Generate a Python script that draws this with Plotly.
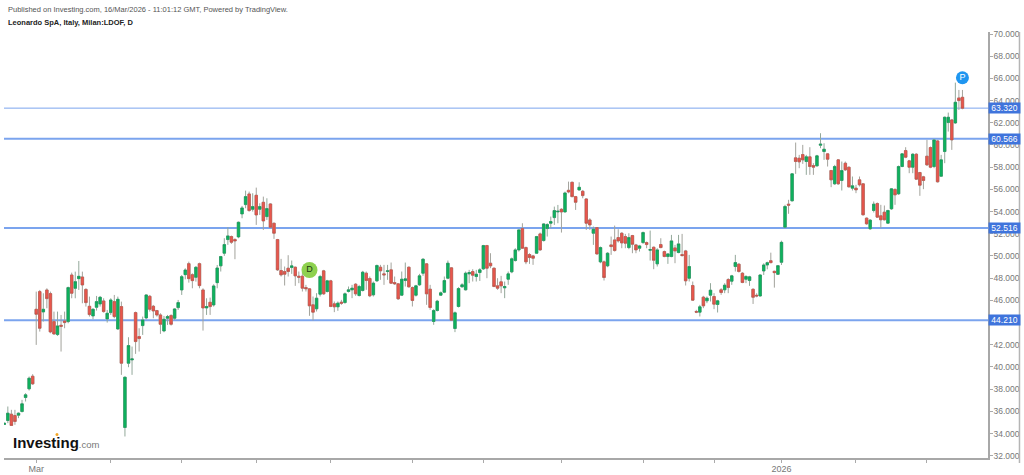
import pandas as pd
import plotly.graph_objects as go

# ---- data ----
first_day = "2025-02-18"
last_day = "2026-03-16"
holidays = ["2025-04-18", "2025-04-21", "2025-05-01", "2025-08-15", "2025-12-24",
            "2025-12-25", "2025-12-26", "2025-12-31", "2026-01-01"]

opens = [34.82,35.18,35.75,35.63,35.66,35.99,37.25,38.03,39.17,45.2,46.79,44.96,46.94,46.61,44.09,42.92,43.76,44.15,44.09,48.29,
47.09,47.96,48.11,46.99,45.47,44.6,45.38,45.68,45.95,44.33,44.9,45.89,43.43,45.44,34.55,40.34,40.64,44.9,42.74,43.73,
44.42,46.37,45.47,45.08,44.69,43.25,44.39,44.63,44.39,45.35,46.94,48.32,49.31,48.32,48.08,49.31,46.94,45.32,45.83,45.59,
47.6,49.11,50.25,51.48,51.75,51.48,51.72,53.79,54.63,55.59,54.21,55.47,54.21,54.84,53.55,54.69,52.95,51.48,48.69,48.6,
48.9,48.96,48.99,48.18,48.18,47.16,47.04,45.6,45.24,46.56,48.66,46.8,47.76,45.69,45.42,45.84,45.81,46.8,46.95,47.46,
46.44,46.89,48.45,47.97,46.5,47.76,48.99,48.39,48.6,48.75,47.61,47.49,46.47,47.79,48.99,47.16,46.47,47.4,48.45,49.29,
47.01,44.1,45.09,46.47,46.74,48.0,48.93,43.47,45.45,47.22,46.95,48.39,48.6,48.15,48.51,48.84,50.94,49.35,48.9,47.31,
47.67,47.13,47.91,48.57,49.59,50.55,52.47,50.76,50.13,50.01,50.25,51.99,51.39,52.47,52.95,53.46,53.97,54.21,53.97,55.92,
56.64,55.35,55.95,55.83,55.14,53.25,52.05,52.56,49.47,49.47,49.11,51.0,51.45,51.66,52.05,51.75,50.76,51.84,51.0,50.7,
51.21,51.21,50.52,50.79,49.29,51.03,50.4,49.95,49.95,50.73,50.31,50.13,50.46,48.0,47.34,45.0,44.94,46.29,45.96,46.47,
46.35,45.63,46.95,46.95,47.88,47.73,49.05,49.26,48.45,47.91,47.79,47.0,46.46,46.4,48.65,49.19,49.58,48.62,48.35,49.43,
52.6,54.67,54.97,58.84,58.81,59.14,58.51,58.93,58.15,58.12,59.98,59.41,59.2,57.7,56.5,58.66,56.8,58.36,58.0,56.11,
56.11,56.86,56.5,53.41,52.45,54.1,54.73,53.62,53.95,52.96,54.25,55.99,55.6,58.06,59.5,58.57,58.0,59.17,57.52,57.13,
58.99,59.77,58.06,60.37,57.19,59.41,62.02,62.26,61.99,64.24,64.3]

highs = [34.97,36.44,36.14,36.14,35.9,37.04,37.64,39.14,39.35,46.79,46.94,46.64,47.09,46.79,44.99,44.99,44.69,44.99,47.24,48.5,
48.59,49.55,48.59,47.09,46.34,45.29,46.4,46.4,46.19,45.14,46.19,46.49,46.34,45.89,39.14,42.68,41.84,44.99,43.49,44.54,
46.55,46.49,45.59,45.14,44.84,44.6,44.69,44.75,45.29,46.04,48.29,48.89,49.49,48.44,49.1,49.4,47.09,46.19,46.25,47.45,
49.19,50.01,51.6,52.59,51.84,51.6,53.1,54.51,55.89,55.8,55.65,56.16,54.75,55.35,55.2,54.75,53.01,51.54,49.74,49.05,
50.07,49.59,49.05,48.6,48.6,47.4,47.1,46.35,46.65,48.3,48.75,47.85,47.85,45.9,45.9,46.05,46.71,47.25,47.4,47.55,
47.4,48.66,48.6,48.15,47.7,49.23,49.2,49.2,49.2,49.41,48.15,47.55,48.6,49.41,49.05,47.25,47.4,48.39,49.8,49.35,
47.4,45.21,46.05,46.8,48.15,49.59,48.99,45.0,47.19,47.55,48.6,48.75,48.81,48.75,48.9,51.0,51.0,50.25,48.96,48.0,
48.21,47.7,48.6,49.86,50.7,52.41,52.95,50.85,50.25,50.1,51.81,52.11,52.95,52.95,53.55,54.45,54.6,54.3,55.8,56.7,
56.7,55.41,56.64,55.95,55.2,53.4,52.65,52.59,50.85,49.59,50.34,51.75,52.74,52.41,52.14,51.99,52.05,51.9,51.09,51.0,
52.2,51.3,52.29,50.85,50.7,51.6,50.49,50.25,51.9,51.0,51.9,51.99,50.55,50.1,47.7,45.15,45.6,46.41,46.35,47.55,
46.65,46.05,47.1,47.55,48.0,48.3,50.1,49.35,48.54,48.27,48.21,47.09,46.64,48.35,49.34,49.49,50.3,48.68,49.19,51.38,
54.61,55.06,57.46,60.22,59.11,60.01,59.11,59.8,58.36,59.11,61.06,60.16,59.26,57.76,58.21,58.72,58.51,58.51,58.06,57.16,
56.41,57.16,56.56,53.47,53.32,54.91,54.82,54.61,54.55,54.16,56.11,56.11,58.15,59.26,59.8,58.66,59.26,59.26,57.58,57.22,
60.46,59.86,60.52,60.46,59.11,62.56,62.92,62.35,65.62,64.96,64.96]

lows = [34.79,34.94,34.7,34.79,35.39,35.9,36.89,37.88,38.39,41.99,43.19,44.09,45.29,43.04,42.89,42.8,41.39,43.49,43.94,46.19,
46.19,46.94,45.74,45.44,44.54,44.3,45.08,45.44,44.9,44.0,44.69,44.39,43.34,39.29,33.74,39.98,39.29,41.18,41.39,42.89,
44.3,44.99,44.39,44.54,42.98,43.13,43.79,43.73,44.24,45.14,46.49,47.9,47.6,47.09,47.69,47.09,43.28,44.69,44.69,45.44,
47.09,48.6,50.01,51.0,51.09,49.71,51.6,53.4,54.3,54.0,54.0,52.8,53.7,52.35,53.25,52.5,51.54,48.66,48.15,47.34,
48.15,48.39,47.31,47.55,46.8,46.8,44.61,44.19,45.0,46.35,46.5,46.71,45.39,44.94,45.06,45.6,45.69,46.71,46.2,46.41,
46.35,46.8,46.95,46.29,46.35,47.67,47.85,47.4,47.85,47.49,47.4,46.05,46.41,47.25,47.16,45.45,46.35,47.31,48.21,45.6,
45.15,43.8,45.0,46.41,46.65,47.91,44.19,43.14,45.36,47.16,46.89,47.55,47.7,47.7,47.75,48.75,48.0,48.9,47.19,46.95,
46.65,46.2,47.4,48.45,49.5,50.4,50.64,49.26,49.29,49.2,50.19,50.46,51.3,51.75,52.5,52.8,52.95,52.11,53.91,55.65,
55.29,54.15,55.89,55.2,52.35,52.35,51.0,50.1,49.35,47.79,48.99,50.1,50.4,51.21,50.7,50.7,50.61,50.25,50.25,50.4,
51.09,50.7,49.59,48.81,49.05,50.7,49.89,49.29,49.89,49.35,50.25,49.95,47.34,47.7,45.96,44.85,44.55,45.3,45.75,45.9,
45.21,44.91,46.5,46.65,46.65,47.4,48.6,48.51,47.55,47.55,47.31,45.68,46.28,46.34,48.29,48.8,49.34,47.15,48.29,49.19,
52.51,53.8,54.91,57.4,57.91,58.3,57.31,57.31,57.31,58.06,59.71,58.66,58.06,56.2,56.41,56.41,55.9,57.67,56.17,55.9,
55.66,56.26,53.65,52.81,52.36,53.92,53.44,52.51,53.2,52.9,54.16,54.61,55.51,58.0,58.81,57.46,57.46,56.86,55.42,56.02,
58.12,57.91,57.91,56.62,57.16,58.36,61.21,59.56,61.9,63.16,63.22]

closes = [34.94,35.84,34.73,35.09,35.84,36.68,37.49,38.99,38.48,44.75,43.49,45.2,46.16,43.16,42.98,43.7,43.67,44.0,47.15,46.64,
47.69,48.17,47.39,45.8,44.72,45.2,45.89,46.28,44.99,44.84,46.04,44.54,46.1,40.34,39.08,41.93,40.73,42.29,42.56,44.24,
46.49,45.2,45.05,44.69,43.85,44.3,44.54,43.85,45.23,45.8,48.14,48.74,47.96,47.78,48.98,47.33,45.32,45.44,45.44,47.3,
48.92,49.95,51.03,51.81,51.24,51.36,53.04,54.33,55.35,54.09,54.45,53.7,54.45,53.16,54.27,52.59,52.05,48.75,48.3,48.36,
48.6,49.11,48.21,48.09,47.1,47.04,45.51,44.94,46.2,48.15,46.59,47.76,45.45,45.42,45.75,45.75,46.59,46.95,47.1,46.59,
47.25,48.54,47.79,46.41,47.55,49.14,48.66,48.3,48.66,47.55,47.49,46.14,47.91,47.94,47.22,45.99,47.31,48.21,49.71,46.59,
45.36,45.09,45.93,46.68,47.79,49.35,44.22,44.88,47.07,47.4,48.45,48.51,48.27,48.36,48.75,50.94,48.9,49.11,47.25,47.1,
47.31,47.25,48.39,49.74,50.55,52.35,50.7,49.47,49.86,49.8,51.75,50.55,52.89,52.83,53.1,54.09,54.03,53.97,55.68,55.77,
55.35,54.84,56.19,55.44,52.95,52.8,52.41,50.19,50.76,48.06,50.25,50.85,50.49,51.36,51.18,51.15,51.66,51.06,50.55,50.91,
52.11,51.03,50.58,49.62,50.55,50.76,49.95,50.19,51.36,50.46,51.09,50.04,47.76,49.05,46.02,44.94,45.42,45.51,46.2,46.92,
45.66,45.96,46.71,47.37,47.16,48.21,49.41,48.6,47.61,48.15,48.12,46.28,46.4,48.29,49.19,49.4,49.4,48.5,49.13,51.23,
54.46,54.58,57.4,58.51,58.48,58.66,58.93,58.06,58.0,59.02,60.07,59.62,58.72,56.86,58.06,56.5,57.7,57.76,56.23,56.32,
55.96,56.41,53.71,52.9,53.23,54.67,53.5,53.26,53.26,54.1,56.05,55.51,58.06,59.2,58.9,58.0,59.17,56.92,56.38,56.8,
58.21,58.0,60.46,56.68,58.66,62.5,62.5,60.46,63.85,64.0,63.31]

levels = [63.32, 60.566, 52.516, 44.21]
level_widths = [1, 2, 2, 2]
month_ticks = ["2025-03-03", "2025-04-01", "2025-05-02", "2025-06-02", "2025-07-01", "2025-08-01",
               "2025-09-01", "2025-10-01", "2025-11-03", "2025-12-01", "2026-01-02", "2026-02-02", "2026-03-02"]
month_labels = ["Mar", "", "", "", "", "", "", "", "", "", "2026", "", ""]
price_ticks = [32, 34, 36, 38, 40, 42, 44, 46, 48, 50, 52, 54, 56, 58, 60, 62, 64, 66, 68, 70]
price_labels = ["32.000", "34.000", "36.000", "38.000", "40.000", "42.000", "", "46.000", "48.000", "50.000",
                "52.000", "54.000", "56.000", "58.000", "60.000", "62.000", "64.000", "66.000", "68.000", "70.000"]
badge_dates = ["2025-06-23", "2026-03-16"]
badge_prices = [48.74, 66.06]
badge_letters = ["D", "P"]
badge_colors = ["#8ed14f", "#1f96f0"]
badge_sizes = [16, 13]
badge_text = ["#1d3a10", "#ffffff"]

# ---- chart ----
days = [d.strftime("%Y-%m-%d") for d in pd.bdate_range(first_day, last_day) if d.strftime("%Y-%m-%d") not in holidays]

GREEN, RED = "#0fb35d", "#e8574d"
fig = go.Figure()
# wicks
fig.add_trace(go.Candlestick(
    x=days, open=opens, high=highs, low=lows, close=closes, whiskerwidth=0,
    increasing=dict(line=dict(color="#93a89a", width=1), fillcolor=GREEN),
    decreasing=dict(line=dict(color="#a3a39c", width=1), fillcolor=RED),
    hoverinfo="skip", showlegend=False))
# bodies
fig.add_trace(go.Candlestick(
    x=days, open=opens, close=closes,
    high=[max(o, c) for o, c in zip(opens, closes)],
    low=[min(o, c) for o, c in zip(opens, closes)], whiskerwidth=0,
    increasing=dict(line=dict(color="#13975a", width=0.5), fillcolor=GREEN),
    decreasing=dict(line=dict(color="#c04e45", width=0.5), fillcolor=RED),
    hoverinfo="skip", showlegend=False))
fig.add_trace(go.Scatter(
    x=badge_dates, y=badge_prices, mode="markers+text", text=badge_letters,
    textposition="middle center", cliponaxis=False,
    textfont=dict(family="Liberation Sans", size=9, color=badge_text),
    marker=dict(color=badge_colors, size=badge_sizes, opacity=1, line=dict(width=0)),
    hoverinfo="skip", showlegend=False))

for lv, w in zip(levels, level_widths):
    fig.add_hline(y=lv, line=dict(color="#7ba4ee", width=w), layer="below")
    fig.add_annotation(xref="paper", x=1, xanchor="left", xshift=0, yref="y", y=lv, yanchor="middle",
                       text=f"{lv:.3f}", showarrow=False, width=31, height=10, align="center",
                       bgcolor="#3f74dc", borderpad=0,
                       font=dict(family="Liberation Sans", size=8.5, color="#ffffff"))

fig.add_annotation(xref="paper", yref="paper", x=0.002, y=1.0, yshift=22.5, xanchor="left", yanchor="middle",
                   text="Published on Investing.com, 16/Mar/2026 - 11:01:12 GMT, Powered by TradingView.",
                   showarrow=False, font=dict(family="Liberation Sans", size=7.5, color="#555555"))
fig.add_annotation(xref="paper", yref="paper", x=0.002, y=1.0, yshift=10, xanchor="left", yanchor="middle",
                   text="<b>Leonardo SpA, Italy, Milan:LDOF, D</b>",
                   showarrow=False, font=dict(family="Liberation Sans", size=7.5, color="#222222"))
fig.add_annotation(xref="paper", yref="paper", x=0.0075, y=0, yshift=16, xanchor="left", yanchor="middle",
                   text="<b>Investing</b><span style='color:#777777;font-size:9.5px'>.com</span>",
                   showarrow=False, font=dict(family="Liberation Sans", size=15, color="#111111"))

fig.update_layout(
    width=1024, height=475, paper_bgcolor="#ffffff", plot_bgcolor="#ffffff",
    margin=dict(l=4, r=35.5, t=32, b=17, autoexpand=False), showlegend=False, boxgap=0.0,
    shapes=list(fig.layout.shapes) + [
        dict(type="line", xref="paper", yref="paper", x0=(1020-4)/984.5, x1=(1020-4)/984.5,
             y0=-0.012, y1=1, line=dict(color="#b5b5b5", width=1.5)),
        dict(type="circle", xref="paper", yref="paper", x0=(55.5-4)/984.5, x1=(58.5-4)/984.5,
             y0=(458-436)/426, y1=(458-433)/426, fillcolor="#f5a623", line=dict(width=0)),
    ],
    xaxis=dict(type="category", range=[-0.08, 277.2], rangeslider=dict(visible=False), automargin=False,
               tickmode="array", tickvals=month_ticks, ticktext=month_labels,
               ticks="outside", ticklen=3, tickcolor="#aaaaaa", showgrid=False, zeroline=False,
               showline=True, linecolor="#a8a8a8", linewidth=1.5, ticklabelstandoff=-2,
               tickfont=dict(family="Liberation Sans", size=9, color="#777777")),
    yaxis=dict(side="right", range=[31.8, 70.18], automargin=False,
               tickmode="array", tickvals=price_ticks, ticktext=price_labels,
               ticks="outside", ticklen=3, tickcolor="#aaaaaa", showgrid=False, zeroline=False,
               showline=True, linecolor="#a8a8a8", linewidth=1.5, ticklabelstandoff=-1,
               tickfont=dict(family="Liberation Sans", size=8.5, color="#777777")),
)
for arr in (opens, highs, lows, closes):
    assert len(arr) == len(days), (len(arr), len(days))

fig.write_html("out.html", post_script="document.body.style.margin='0';",
               config={"displayModeBar": False})
